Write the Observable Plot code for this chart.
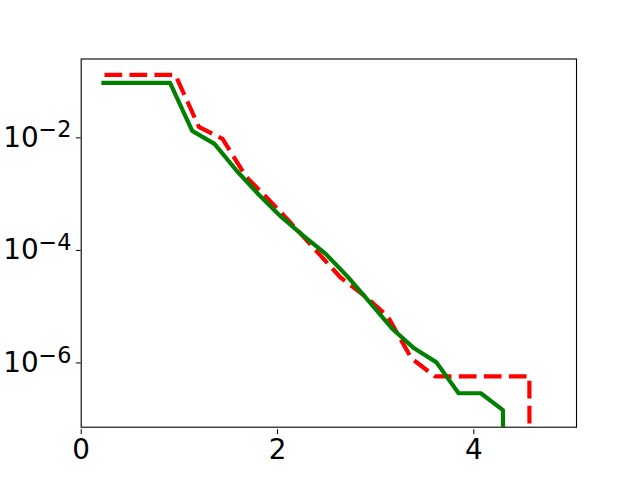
<!DOCTYPE html>
<html><head><meta charset="utf-8">
<script src="https://cdn.jsdelivr.net/npm/d3@7"></script>
<script src="https://cdn.jsdelivr.net/npm/@observablehq/plot@0.6"></script>
<style>body{margin:0;background:#fff}</style>
</head><body><div id="chart"></div>
<script>
// green (solid) series
const greenX = [0.227, 0.453, 0.679, 0.905, 1.131, 1.358, 1.584, 1.810, 2.036, 2.262, 2.488, 2.714, 2.940, 3.166, 3.392, 3.619, 3.845, 4.071, 4.297, 4.523];
const greenY = [0.0836, 0.0836, 0.0836, 0.0836, 0.01178, 0.00692, 0.0023, 8.63e-4, 3.52e-4, 1.62e-4, 7.76e-5, 3.03e-5, 1.05e-5, 3.63e-6, 1.61e-6, 9.06e-7, 2.56e-7, 2.56e-7, 1.28e-7, 0];
// red (dashed) series
const redX = [0.237, 0.478, 0.718, 0.959, 1.199, 1.440, 1.680, 1.921, 2.161, 2.402, 2.642, 2.883, 3.123, 3.364, 3.604, 3.845, 4.085, 4.326, 4.566, 4.807];
const redY = [0.116, 0.116, 0.116, 0.116, 0.01387, 0.00849, 0.0018, 6.76e-4, 2.44e-4, 8.43e-5, 2.92e-5, 1.40e-5, 5.93e-6, 1.07e-6, 5.12e-7, 5.12e-7, 5.12e-7, 5.12e-7, 5.12e-7, 0];
// ticks
const xTicks = [0, 2, 4];
const yTicks = [1e-2, 1e-4, 1e-6];
const yTickExp = ["\u22122", "\u22124", "\u22126"];

const green = greenX.map((x, i) => ({x, y: greenY[i]}));
const red = redX.map((x, i) => ({x, y: redY[i]}));
// emulate matplotlib's "clip" of nonpositive values on a log axis
const clipZero = d => d.y > 0 ? d.y : 1e-300;

const chart = Plot.plot({
  width: 640, height: 480,
  marginLeft: 80.7, marginRight: 64, marginTop: 58.5, marginBottom: 53.3,
  style: {fontFamily: "DejaVu Sans", fontSize: "27.8px", background: "white", color: "black", overflow: "visible"},
  x: {domain: [0, 5.046], label: null},
  y: {type: "log", domain: [Math.pow(10, -7.195), Math.pow(10, -0.652)], label: null},
  marks: [
    Plot.line(red, {x: "x", y: clipZero, stroke: "#ff0000", strokeWidth: 4.2, strokeDasharray: "17.7,7.3", strokeLinejoin: "round", strokeLinecap: "butt", clip: true}),
    Plot.line(green, {x: "x", y: clipZero, stroke: "#008000", strokeWidth: 4.2, strokeLinejoin: "round", strokeLinecap: "square", clip: true}),
    Plot.frame({stroke: "black", strokeWidth: 1.1}),
    Plot.axisX({ticks: xTicks, tickSize: 4.9, tickPadding: 4.9, tickFormat: d => String(d), label: null, dy: 2.5}),
    Plot.axisY({ticks: yTicks, tickSize: 4.9, tickPadding: 4.9, tickFormat: d => "10^" + yTickExp[yTicks.indexOf(d)], label: null, dy: 3})
  ]
});
document.getElementById("chart").appendChild(chart);

// render the exponents as raised superscripts
d3.select(chart).selectAll("text").each(function() {
  const t = this.textContent;
  if (t.startsWith("10^")) {
    const exp = t.slice(3);
    const sel = d3.select(this);
    sel.text("10");
    sel.append("tspan").attr("dy", "-0.42em").attr("font-size", "0.8em").text(exp);
  }
});
</script>
</body></html>
